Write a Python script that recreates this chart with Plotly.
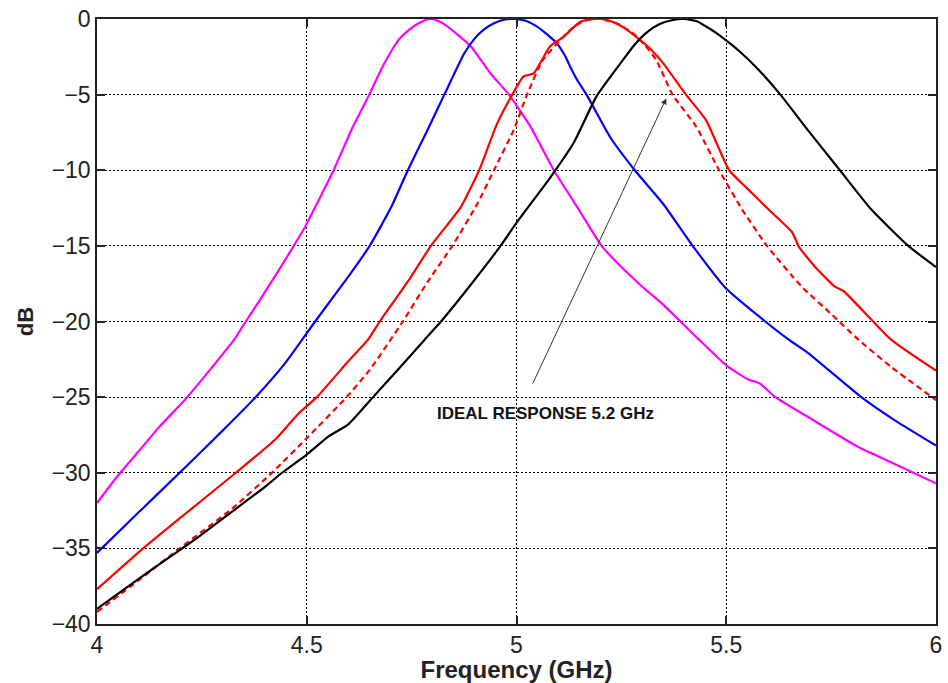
import plotly.graph_objects as go

# Filter responses (dB) versus frequency (GHz)
freq_m = [4.00, 4.051, 4.102, 4.149, 4.212, 4.275, 4.327, 4.35, 4.39, 4.429, 4.469, 4.497, 4.528,
          4.564, 4.607, 4.649, 4.678, 4.70, 4.72, 4.74, 4.76, 4.78, 4.795, 4.815, 4.836, 4.86,
          4.891, 4.938, 4.982, 5.033, 5.089, 5.144, 5.203, 5.25, 5.30, 5.35, 5.435, 5.50, 5.55,
          5.58, 5.617, 5.70, 5.815, 5.90, 6.00]
db_m = [-32.0, -30.15, -28.5, -26.95, -25.1, -23.0, -21.2, -20.2, -18.5, -16.8, -15.0, -13.7, -12.0,
        -10.0, -7.3, -5.0, -3.3, -2.2, -1.35, -0.8, -0.4, -0.1, 0.0, -0.15, -0.5, -1.05,
        -1.8, -3.6, -5.0, -7.1, -10.0, -12.4, -15.0, -16.4, -17.7, -18.9, -21.2, -22.9, -23.8,
        -24.1, -25.0, -26.4, -28.3, -29.4, -30.7]

freq_b = [4.00, 4.10, 4.197, 4.30, 4.378, 4.45, 4.52, 4.60, 4.65, 4.702, 4.741, 4.785, 4.828,
          4.875, 4.90, 4.922, 4.945, 4.97, 4.995, 5.025, 5.049, 5.07, 5.096, 5.115, 5.128, 5.144,
          5.167, 5.223, 5.282, 5.349, 5.420, 5.499, 5.562, 5.649, 5.696, 5.822, 5.90, 6.00]
db_b = [-35.3, -32.6, -30.0, -27.2, -25.0, -22.7, -20.0, -17.0, -15.0, -12.4, -10.0, -7.5, -5.0,
        -2.3, -1.3, -0.7, -0.3, -0.05, 0.0, -0.15, -0.5, -0.95, -1.6, -2.4, -3.15, -4.0,
        -5.0, -7.8, -10.0, -12.2, -15.0, -17.8, -19.3, -21.2, -22.1, -25.0, -26.5, -28.2]

freq_r = [4.00, 4.110, 4.22, 4.331, 4.425, 4.48, 4.524, 4.60, 4.646, 4.674, 4.74, 4.796, 4.868,
          4.911, 4.954, 4.990, 5.017, 5.041, 5.080, 5.111, 5.151, 5.17, 5.20, 5.22, 5.238, 5.26,
          5.286, 5.32, 5.349, 5.404, 5.452, 5.507, 5.546, 5.601, 5.657, 5.673, 5.712, 5.759, 5.78,
          5.893, 6.00]
db_r = [-37.7, -35.0, -32.5, -30.0, -27.8, -26.1, -25.0, -22.6, -21.2, -20.0, -17.4, -15.0, -12.4,
        -10.0, -6.9, -5.0, -3.8, -3.6, -1.8, -1.2, -0.2, -0.05, 0.0, -0.1, -0.3, -0.65,
        -1.2, -2.0, -2.9, -5.0, -6.7, -10.0, -11.1, -12.6, -14.1, -15.05, -16.4, -17.7, -18.0,
        -21.2, -23.25]

freq_ideal = [4.00, 4.10, 4.197, 4.323, 4.417, 4.504, 4.595, 4.65, 4.729, 4.79, 4.847, 4.907,
              4.946, 4.994, 5.025, 5.063, 5.111, 5.135, 5.159, 5.18, 5.20, 5.24, 5.278, 5.305,
              5.333, 5.372, 5.428, 5.483, 5.538, 5.597, 5.680, 5.75, 5.815, 5.893, 6.00]
db_ideal = [-39.2, -37.1, -35.0, -32.35, -30.0, -27.6, -25.0, -23.2, -20.0, -17.3, -15.0, -12.2,
            -10.0, -7.3, -5.0, -2.7, -1.2, -0.55, -0.15, 0.0, 0.0, -0.3, -0.95, -1.7,
            -2.7, -5.0, -7.1, -10.0, -12.6, -15.0, -17.7, -19.5, -21.2, -23.0, -25.2]

freq_k = [4.00, 4.12, 4.244, 4.33, 4.402, 4.441, 4.50, 4.552, 4.599, 4.658, 4.72, 4.781, 4.82,
          4.89, 4.962, 5.002, 5.08, 5.136, 5.191, 5.254, 5.28, 5.31, 5.34, 5.37, 5.40, 5.43,
          5.452, 5.475, 5.499, 5.530, 5.570, 5.629, 5.696, 5.771, 5.846, 5.934, 6.00]
db_k = [-39.0, -36.6, -34.2, -32.4, -30.9, -30.0, -28.8, -27.6, -26.8, -25.0, -23.1, -21.2, -20.0,
        -17.6, -15.0, -13.4, -10.5, -8.2, -5.1, -2.7, -1.75, -0.9, -0.35, -0.08, 0.0, -0.15,
        -0.5, -0.9, -1.4, -2.1, -3.15, -5.0, -7.4, -10.0, -12.6, -15.0, -16.4]

x_ticks = [4, 4.5, 5, 5.5, 6]
y_ticks = [0, -5, -10, -15, -20, -25, -30, -35, -40]

label_text = "IDEAL RESPONSE 5.2 GHz"
label_pos = (5.068, -26.1)
arrow_head = (5.357, -5.25)
arrow_tail = (5.037, -24.2)

FONT = "Liberation Sans, Arial, sans-serif"
LW = 2.2


def curve(x, y, color, dash="solid"):
    return go.Scatter(x=x, y=y, mode="lines",
                      line=dict(color=color, width=LW, dash=dash, shape="spline", smoothing=0.5))


fig = go.Figure()
fig.add_trace(curve(freq_m, db_m, "#ff00ff"))
fig.add_trace(curve(freq_b, db_b, "#0000ff"))
fig.add_trace(curve(freq_r, db_r, "#ff0000"))
fig.add_trace(curve(freq_ideal, db_ideal, "#ff0000", dash="6px,4px"))
fig.add_trace(curve(freq_k, db_k, "#000000"))

# arrow pointing at the ideal response
fig.add_annotation(x=arrow_head[0], y=arrow_head[1], ax=arrow_tail[0], ay=arrow_tail[1],
                   xref="x", yref="y", axref="x", ayref="y", text="", showarrow=True,
                   arrowhead=2, arrowsize=1.2, arrowwidth=1, arrowcolor="#333333")
fig.add_annotation(x=label_pos[0], y=label_pos[1], xref="x", yref="y",
                   text="<b>" + label_text + "</b>",
                   showarrow=False, font=dict(family=FONT, size=17, color="#111111"),
                   xanchor="center", yanchor="middle")

axis_common = dict(
    showline=True, linecolor="#222222", linewidth=1.5, mirror="ticks",
    ticks="inside", ticklen=8, tickwidth=1.5, tickcolor="#222222",
    showgrid=True, gridcolor="#000000", gridwidth=1, griddash="2px,2px",
    zeroline=False, tickfont=dict(family=FONT, size=23, color="#222222"),
)

fig.update_layout(
    width=948, height=683,
    margin=dict(l=97, r=6, t=19, b=59),
    paper_bgcolor="white", plot_bgcolor="white",
    showlegend=False,
    xaxis=dict(range=[4, 6], tickvals=x_ticks, ticktext=[str(v) for v in x_ticks],
               title=dict(text="<b>Frequency (GHz)</b>", standoff=0,
                          font=dict(family=FONT, size=24, color="#222222")),
               **axis_common),
    yaxis=dict(range=[-40, 0], tickvals=y_ticks,
               title=dict(text="<b>dB</b>", standoff=12,
                          font=dict(family=FONT, size=22, color="#222222")),
               **axis_common),
)

fig.write_html("out.html")
